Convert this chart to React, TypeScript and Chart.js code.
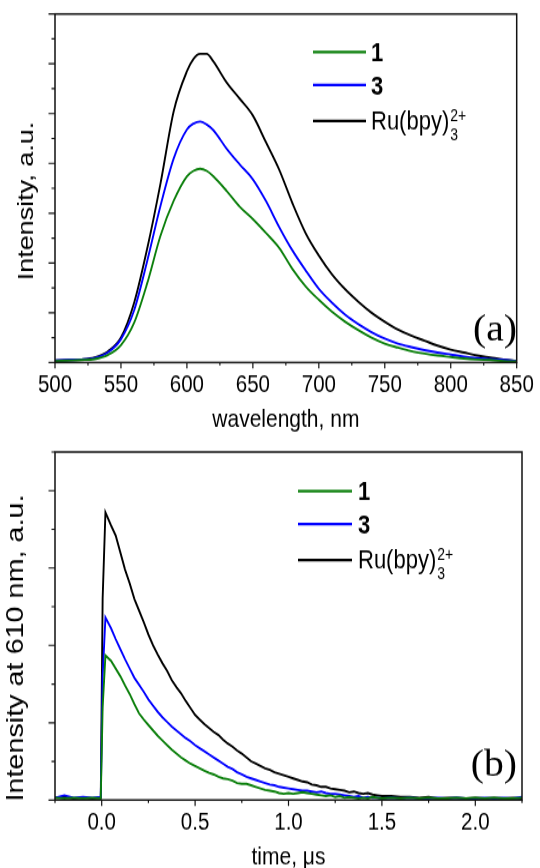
import React, { useEffect, useRef } from "react";
import { Chart, registerables } from "chart.js";
Chart.register(...registerables);

// ---------- data: emission spectra (panel a) ----------
const WAVELENGTH = [500, 510, 520, 530, 540, 550, 560, 570, 580, 590, 600, 605, 610, 615, 620, 630, 640, 650, 660, 670, 680, 690, 700, 710, 720, 730, 740, 750, 760, 770, 780, 790, 800, 810, 820, 830, 840, 850];
const SPEC_1 = [0.03, 0.04, 0.05, 0.07, 0.15, 0.35, 0.8, 1.6, 2.55, 3.25, 3.74, 3.85, 3.89, 3.85, 3.74, 3.45, 3.13, 2.88, 2.6, 2.3, 1.88, 1.53, 1.26, 1.02, 0.82, 0.65, 0.5, 0.38, 0.3, 0.23, 0.18, 0.14, 0.11, 0.08, 0.06, 0.05, 0.03, 0.02];
const SPEC_3 = [0.04, 0.05, 0.06, 0.09, 0.2, 0.47, 1.05, 2.05, 3.15, 4.1, 4.68, 4.8, 4.84, 4.78, 4.67, 4.3, 3.98, 3.68, 3.24, 2.72, 2.25, 1.85, 1.48, 1.2, 0.96, 0.77, 0.61, 0.48, 0.38, 0.31, 0.25, 0.2, 0.16, 0.12, 0.09, 0.07, 0.05, 0.03];
const SPEC_RU = [0.04, 0.05, 0.06, 0.1, 0.22, 0.5, 1.2, 2.3, 3.6, 5.05, 5.85, 6.1, 6.2, 6.2, 6.05, 5.63, 5.3, 4.96, 4.42, 3.87, 3.2, 2.6, 2.15, 1.77, 1.47, 1.22, 1.0, 0.82, 0.66, 0.54, 0.44, 0.34, 0.26, 0.2, 0.14, 0.1, 0.06, 0.03];
const WL_MAJOR = [500, 550, 600, 650, 700, 750, 800, 850];
const WL_MINOR = [525, 575, 625, 675, 725, 775, 825];
const SPEC_Y_MAJOR = [0, 1, 2, 3, 4, 5, 6, 7];
const SPEC_Y_MINOR = [0.5, 1.5, 2.5, 3.5, 4.5, 5.5, 6.5];

// ---------- data: luminescence decay at 610 nm (panel b) ----------
const TIME = [-0.25, -0.2, -0.15, -0.1, -0.05, -0.005, 0.005, 0.02,
  0.05, 0.075, 0.1, 0.125, 0.15, 0.175, 0.2, 0.225, 0.25, 0.275, 0.3, 0.325, 0.35, 0.375, 0.4, 0.425, 0.45, 0.475, 0.5, 0.525, 0.55, 0.575, 0.6, 0.625, 0.65, 0.675, 0.7, 0.725, 0.75, 0.775, 0.8, 0.825, 0.85, 0.875, 0.9, 0.925, 0.95, 0.975, 1.0, 1.025, 1.05, 1.075, 1.1, 1.125, 1.15, 1.175, 1.2, 1.225, 1.25, 1.275, 1.3, 1.325, 1.35, 1.375, 1.4, 1.425, 1.45, 1.475, 1.5,
  1.55, 1.6, 1.65, 1.7, 1.75, 1.8, 1.85, 1.9, 1.95, 2.0, 2.05, 2.1, 2.15, 2.2, 2.25];
const DECAY_1 = [0.03, 0.02, 0.03, 0.02, 0.03, 0.02, 1.2, 1.87,
  1.8, 1.7, 1.6, 1.48, 1.37, 1.24, 1.12, 1.04, 0.97, 0.9,
  0.83, 0.77, 0.71, 0.65, 0.6, 0.55, 0.51, 0.47, 0.44, 0.41,
  0.38, 0.35, 0.33, 0.3, 0.28, 0.27, 0.25, 0.22, 0.21, 0.21,
  0.19, 0.17, 0.15, 0.13, 0.12, 0.11, 0.09, 0.08, 0.09, 0.08,
  0.09, 0.1, 0.09, 0.08, 0.07, 0.06, 0.05, 0.06, 0.04, 0.05,
  0.03, 0.04, 0.03, 0.02, 0.03, 0.02, 0.04, 0.03, 0.02,
  0.03, 0.02, 0.03, 0.02, 0.03, 0.02, 0.02, 0.03, 0.02, 0.03, 0.02, 0.03, 0.02, 0.02, 0.03];
const DECAY_3 = [0.03, 0.06, 0.03, 0.04, 0.03, 0.04, 1.6, 2.36,
  2.22, 2.08, 1.95, 1.82, 1.7, 1.58, 1.49, 1.4, 1.3, 1.22,
  1.14, 1.07, 1.01, 0.95, 0.9, 0.85, 0.8, 0.76, 0.71, 0.67,
  0.63, 0.59, 0.55, 0.51, 0.47, 0.43, 0.4, 0.36, 0.33, 0.3,
  0.28, 0.26, 0.24, 0.22, 0.2, 0.19, 0.17, 0.16, 0.15, 0.14,
  0.13, 0.12, 0.12, 0.11, 0.1, 0.11, 0.09, 0.08, 0.08, 0.07,
  0.06, 0.05, 0.04, 0.05, 0.03, 0.04, 0.03, 0.03, 0.02,
  0.03, 0.02, 0.03, 0.02, 0.02, 0.03, 0.02, 0.03, 0.02, 0.02, 0.03, 0.02, 0.03, 0.02, 0.04];
const DECAY_RU = [0.03, 0.04, 0.02, 0.03, 0.02, 0.03, 2.6, 3.72,
  3.55, 3.42, 3.2, 2.98, 2.8, 2.6, 2.45, 2.3, 2.14, 2.0,
  1.88, 1.77, 1.67, 1.55, 1.46, 1.38, 1.28, 1.19, 1.1, 1.04,
  0.98, 0.93, 0.88, 0.84, 0.78, 0.73, 0.69, 0.64, 0.6, 0.55,
  0.5, 0.47, 0.44, 0.41, 0.39, 0.36, 0.34, 0.32, 0.3, 0.28,
  0.26, 0.24, 0.23, 0.2, 0.19, 0.17, 0.17, 0.15, 0.14, 0.13,
  0.12, 0.1, 0.11, 0.09, 0.08, 0.09, 0.07, 0.06, 0.05,
  0.05, 0.04, 0.04, 0.03, 0.04, 0.02, 0.03, 0.03, 0.02, 0.03, 0.02, 0.03, 0.02, 0.03, 0.02];
const T_MAJOR = [0, 0.5, 1.0, 1.5, 2.0];
const T_MINOR = [-0.25, 0.25, 0.75, 1.25, 1.75, 2.25];
const DECAY_Y_MAJOR = [0, 1, 2, 3, 4];
const DECAY_Y_MINOR = [0.5, 1.5, 2.5, 3.5, 4.5];

const SERIES_LABELS = ["1", "3", "Ru(bpy)3 2+"];
const COLORS = ["#0b7f0b", "#0000ff", "#000000"];

// the reference figure is vertically stretched; we draw at 540x362 and display at 540x434
const DRAW_H = 362;
const S = 434 / DRAW_H;
const SANS = '"Liberation Sans", Arial, sans-serif';
const SERIF = '"Liberation Serif", "Times New Roman", serif';

type Deco = {
  xMajor: number[]; xMinor: number[]; yMajor: number[]; yMinor: number[];
  legLine: [number, number]; legTextX: number; legY: number;
  panel: string; panelX: number; panelY: number;
  yTitle: string; yTitleSize: number; yTitleX: number; yTitleY: number;
};

function decoPlugin(d: Deco) {
  return {
    id: "deco",
    afterDraw(chart: any) {
      const { ctx, chartArea: a, scales } = chart;
      const xs = scales.x, ys = scales.y;
      ctx.save();
      // frame
      ctx.strokeStyle = "#111";
      ctx.lineWidth = 1.5;
      ctx.strokeRect(a.left, a.top, a.right - a.left, a.bottom - a.top);
      // tick marks
      ctx.beginPath();
      for (const v of d.xMajor) { const p = xs.getPixelForValue(v); ctx.moveTo(p, a.bottom); ctx.lineTo(p, a.bottom + 5); }
      for (const v of d.xMinor) { const p = xs.getPixelForValue(v); ctx.moveTo(p, a.bottom); ctx.lineTo(p, a.bottom + 2.5); }
      for (const v of d.yMajor) { const p = ys.getPixelForValue(v); ctx.moveTo(a.left, p); ctx.lineTo(a.left - 6.5, p); }
      for (const v of d.yMinor) { const p = ys.getPixelForValue(v); ctx.moveTo(a.left, p); ctx.lineTo(a.left - 3.5, p); }
      ctx.lineWidth = 1.2;
      ctx.stroke();

      // legend
      const rows = [0, 27.5, 57.5];
      const ds = chart.data.datasets;
      for (let i = 0; i < 3; i++) {
        const y = d.legY + rows[i];
        ctx.beginPath();
        ctx.strokeStyle = ds[i].borderColor;
        ctx.lineWidth = 2.2;
        ctx.moveTo(d.legLine[0], y);
        ctx.lineTo(d.legLine[1], y);
        ctx.stroke();
        ctx.fillStyle = "#000";
        ctx.textAlign = "left";
        ctx.textBaseline = "alphabetic";
        if (i < 2) {
          ctx.font = `bold 22px ${SANS}`;
          ctx.fillText(SERIES_LABELS[i], d.legTextX, y + 7.8);
        } else {
          const base = y + 6.8;
          ctx.font = `22px ${SANS}`;
          const main = "Ru(bpy)";
          ctx.fillText(main, d.legTextX, base);
          const w = ctx.measureText(main).width;
          ctx.font = `14px ${SANS}`;
          ctx.fillText("2+", d.legTextX + w + 1, base - 7);
          ctx.fillText("3", d.legTextX + w + 1, base + 9.5);
        }
      }

      // panel label
      ctx.save();
      ctx.fillStyle = "#000";
      ctx.translate(d.panelX, d.panelY);
      ctx.scale(1.1, 0.88);
      ctx.font = `36px ${SERIF}`;
      ctx.textAlign = "right";
      ctx.textBaseline = "alphabetic";
      ctx.fillText(d.panel, 0, 0);
      ctx.restore();

      // y-axis title
      ctx.save();
      ctx.fillStyle = "#000";
      ctx.translate(d.yTitleX, d.yTitleY);
      ctx.rotate(-Math.PI / 2);
      ctx.font = `${d.yTitleSize}px ${SANS}`;
      ctx.textAlign = "center";
      ctx.textBaseline = "alphabetic";
      ctx.fillText(d.yTitle, 0, 0);
      ctx.restore();

      ctx.restore();
    },
  };
}

function pts(xs: number[], ys: number[]) {
  return xs.map((x, i) => ({ x, y: ys[i] }));
}

function makeChart(
  canvas: HTMLCanvasElement,
  cfg: {
    xs: number[]; series: number[][]; smooth: boolean;
    xMin: number; xMax: number; yMax: number;
    xMajor: number[]; xMinor: number[]; yMajor: number[]; yMinor: number[];
    fmt: (v: number) => string; xTitle: string;
    top: number; xAxisH: number; tickPad: number; titlePad: number;
    deco: Omit<Deco, "xMajor" | "xMinor" | "yMajor" | "yMinor">;
  }
) {
  const datasets = cfg.series.map((ys, i) => ({
    label: SERIES_LABELS[i],
    data: pts(cfg.xs, ys),
    borderColor: COLORS[i],
    backgroundColor: COLORS[i],
    borderWidth: 1.9,
    pointRadius: 0,
    fill: false,
    tension: 0,
    cubicInterpolationMode: cfg.smooth ? ("monotone" as const) : ("default" as const),
  }));
  return new Chart(canvas, {
    type: "line",
    data: { datasets },
    options: {
      responsive: false,
      animation: false,
      devicePixelRatio: 1,
      layout: { padding: { left: 0, right: 18, top: cfg.top, bottom: 0 } },
      plugins: { legend: { display: false }, tooltip: { enabled: false } },
      scales: {
        x: {
          type: "linear",
          min: cfg.xMin,
          max: cfg.xMax,
          afterBuildTicks: (s: any) => { s.ticks = cfg.xMajor.map((v) => ({ value: v })); },
          afterFit: (s: any) => { s.height = cfg.xAxisH; },
          grid: { display: false, drawTicks: false },
          border: { display: false },
          ticks: {
            padding: cfg.tickPad,
            color: "#000",
            maxRotation: 0,
            autoSkip: false,
            font: { family: SANS, size: 20.5 },
            callback: (v: any) => cfg.fmt(Number(v)),
          },
          title: {
            display: true,
            text: cfg.xTitle,
            color: "#000",
            font: { family: SANS, size: 21 },
            padding: { top: 0, bottom: cfg.titlePad },
          },
        },
        y: {
          type: "linear",
          min: 0,
          max: cfg.yMax,
          afterFit: (s: any) => { s.width = 55; },
          grid: { display: false, drawTicks: false },
          border: { display: false },
          ticks: { display: false },
        },
      },
    },
    plugins: [decoPlugin({ ...cfg.deco, xMajor: cfg.xMajor, xMinor: cfg.xMinor, yMajor: cfg.yMajor, yMinor: cfg.yMinor })],
  } as any);
}

function buildSpectra(c: HTMLCanvasElement) {
  return makeChart(c, {
    xs: WAVELENGTH,
    series: [SPEC_1, SPEC_3, SPEC_RU],
    smooth: true,
    xMin: 500, xMax: 850, yMax: 7,
    xMajor: WL_MAJOR, xMinor: WL_MINOR, yMajor: SPEC_Y_MAJOR, yMinor: SPEC_Y_MINOR,
    fmt: (v) => String(v),
    xTitle: "wavelength, nm",
    top: 14 / S,
    xAxisH: DRAW_H - 362.5 / S,
    tickPad: 6.2,
    titlePad: -1.1,
    deco: {
      legLine: [313, 366], legTextX: 371, legY: 52 / S,
      panel: "(a)", panelX: 517, panelY: 340 / S,
      yTitle: "Intensity, a.u.", yTitleSize: 22.5, yTitleX: 33, yTitleY: 201 / S,
    },
  });
}

function buildDecay(c: HTMLCanvasElement) {
  return makeChart(c, {
    xs: TIME,
    series: [DECAY_1, DECAY_3, DECAY_RU],
    smooth: false,
    xMin: -0.25, xMax: 2.25, yMax: 4.5,
    xMajor: T_MAJOR, xMinor: T_MINOR, yMajor: DECAY_Y_MAJOR, yMinor: DECAY_Y_MINOR,
    fmt: (v) => v.toFixed(1),
    xTitle: "time, \u03BCs",
    top: (452 - 434) / S,
    xAxisH: DRAW_H - (800 - 434) / S,
    tickPad: 7.2,
    titlePad: -3.6,
    deco: {
      legLine: [298, 352], legTextX: 358, legY: (491 - 434) / S,
      panel: "(b)", panelX: 517, panelY: (776 - 434) / S,
      yTitle: "Intensity at 610 nm, a.u.", yTitleSize: 24, yTitleX: 23, yTitleY: (648 - 434) / S,
    },
  });
}

function Panel({ build }: { build: (c: HTMLCanvasElement) => Chart }) {
  const ref = useRef<HTMLCanvasElement>(null);
  useEffect(() => {
    const ch = build(ref.current as HTMLCanvasElement);
    return () => ch.destroy();
  }, [build]);
  return (
    <canvas
      ref={ref}
      width={540}
      height={DRAW_H}
      style={{ display: "block", width: "540px", height: "434px" }}
    />
  );
}

export default function App() {
  return (
    <div style={{ position: "absolute", left: 0, top: 0, width: 540, height: 868, background: "#fff" }}>
      <Panel build={buildSpectra} />
      <Panel build={buildDecay} />
    </div>
  );
}
